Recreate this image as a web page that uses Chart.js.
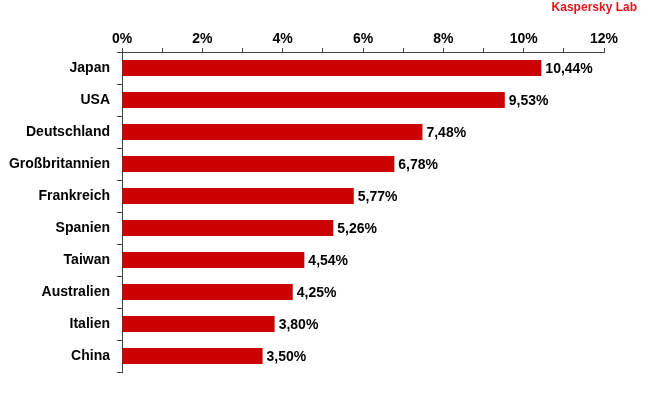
<!DOCTYPE html>
<html>
<head>
<meta charset="utf-8">
<script src="https://cdn.jsdelivr.net/npm/chart.js@4"></script>
<style>
    body { margin: 0; background: #fff; }
    #wrap { position: relative; width: 650px; height: 400px; }
    #brand { position: absolute; right: 13px; top: 0px; color: #e3161e; font: bold 12px Arial, "Liberation Sans", sans-serif; }
</style>
</head>
<body>
<div id="wrap">
    <canvas id="chart" width="650" height="400"></canvas>
    <div id="brand">Kaspersky Lab</div>
</div>
<script>
const countries = ["Japan", "USA", "Deutschland", "Großbritannien", "Frankreich", "Spanien", "Taiwan", "Australien", "Italien", "China"];
const shares = [10.44, 9.53, 7.48, 6.78, 5.77, 5.26, 4.54, 4.25, 3.80, 3.50];

const font = { family: "Arial, 'Liberation Sans', sans-serif", weight: "bold", size: 14 };

const valueLabels = {
    id: "valueLabels",
    afterDatasetsDraw(chart) {
        const ctx = chart.ctx;
        const meta = chart.getDatasetMeta(0);
        ctx.save();
        ctx.font = "bold 14px Arial, 'Liberation Sans', sans-serif";
        ctx.fillStyle = "#000";
        ctx.textBaseline = "middle";
        meta.data.forEach((bar, i) => {
            ctx.fillText(shares[i].toFixed(2).replace(".", ",") + "%", bar.x + 4, bar.y + 1);
        });
        ctx.restore();
    },
};

new Chart(document.getElementById("chart"), {
    type: "bar",
    plugins: [valueLabels],
    data: {
        labels: countries,
        datasets: [
            {
                data: shares,
                backgroundColor: "#cc0000",
                barPercentage: 0.5,
                categoryPercentage: 1,
            },
        ],
    },
    options: {
        indexAxis: "y",
        responsive: false,
        animation: false,
        layout: { padding: { top: 0, right: 46, bottom: 28, left: 0 } },
        plugins: { legend: { display: false }, tooltip: { enabled: false } },
        scales: {
            x: {
                position: "top",
                min: 0,
                max: 12,
                afterFit: (axis) => { axis.height = 52; },
                border: { color: "#444", width: 1 },
                grid: { drawOnChartArea: false, tickLength: 4, color: "#444" },
                ticks: {
                    stepSize: 1,
                    autoSkip: false,
                    color: "#000",
                    font: font,
                    padding: 0,
                    callback: (v) => (v % 2 === 0 ? v + "%" : ""),
                },
            },
            y: {
                afterFit: (axis) => { axis.width = 122; },
                border: { color: "#444", width: 1 },
                grid: { drawOnChartArea: false, tickLength: 5, color: "#444", offset: true },
                ticks: { color: "#000", font: font, padding: 7 },
            },
        },
    },
});
</script>
</body>
</html>
